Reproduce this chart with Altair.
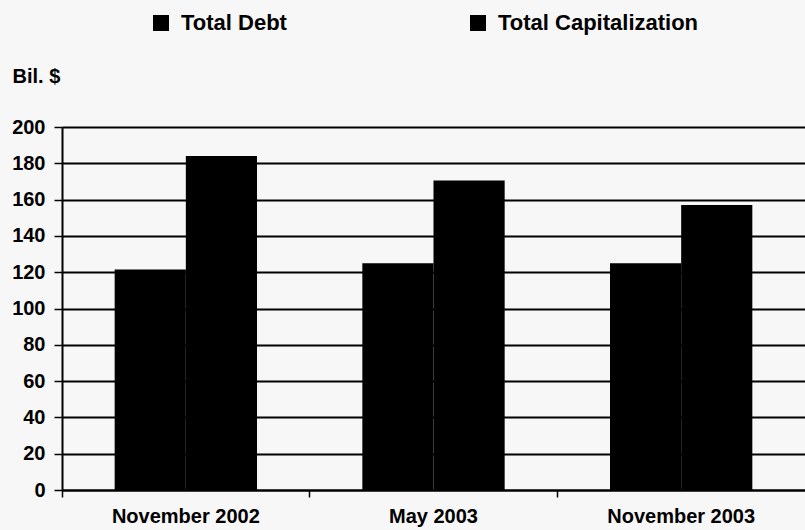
import altair as alt
import pandas as pd

categories = ["November 2002", "May 2003", "November 2003"]
series = ["Total Debt", "Total Capitalization"]
total_debt = [121.5, 125, 125]
total_cap = [184, 170.5, 157]

rows = []
for i, c in enumerate(categories):
    rows.append({"period": c, "series": series[0], "value": total_debt[i]})
    rows.append({"period": c, "series": series[1], "value": total_cap[i]})
df = pd.DataFrame(rows)

FONT = "Liberation Sans"

chart = alt.Chart(df).mark_bar(color="black").encode(
    x=alt.X("period:N", sort=categories, title=None,
            scale=alt.Scale(paddingInner=0, paddingOuter=0),
            axis=alt.Axis(labelAngle=0, bandPosition=0,
                          ticks=True, tickSize=7, tickColor="black", tickWidth=1.5,
                          domainColor="black", domainWidth=2,
                          labelFont=FONT, labelFontSize=20, labelFontWeight="bold",
                          labelColor="black", labelPadding=9, grid=False)),
    xOffset=alt.XOffset("series:N", sort=series,
                        scale=alt.Scale(paddingOuter=0.74, paddingInner=0)),
    y=alt.Y("value:Q", title="Bil. $",
            scale=alt.Scale(domain=[0, 200], nice=False),
            axis=alt.Axis(values=list(range(0, 201, 20)), grid=True, gridColor="black",
                          gridWidth=2, gridOpacity=1, domainColor="black", domainWidth=2,
                          tickColor="black", tickSize=8, tickWidth=1.5,
                          labelFont=FONT, labelFontSize=20, labelFontWeight="bold",
                          labelColor="black", labelPadding=9,
                          titleFont=FONT, titleFontSize=20, titleFontWeight="bold",
                          titleColor="black", titleAngle=0, titleAlign="left",
                          titleBaseline="middle", titleX=-50, titleY=-51)),
    color=alt.Color("series:N", sort=series,
                    scale=alt.Scale(domain=series, range=["black", "black"]),
                    legend=alt.Legend(title=None, orient="none", direction="horizontal",
                                      legendX=88, legendY=-115, columns=2,
                                      columnPadding=180, symbolType="square",
                                      symbolSize=256, symbolStrokeWidth=0,
                                      labelFont=FONT, labelFontSize=22,
                                      labelFontWeight="bold", labelColor="black",
                                      labelOffset=9, labelLimit=400)),
).properties(
    width=743, height=363,
    autosize=alt.AutoSizeParams(type="none"),
    padding={"left": 62, "top": 127, "right": 0, "bottom": 40},
    background="#f7f7f7",
).configure_view(stroke=None)

chart.save("out.html", embed_options={"renderer": "svg", "actions": False})
